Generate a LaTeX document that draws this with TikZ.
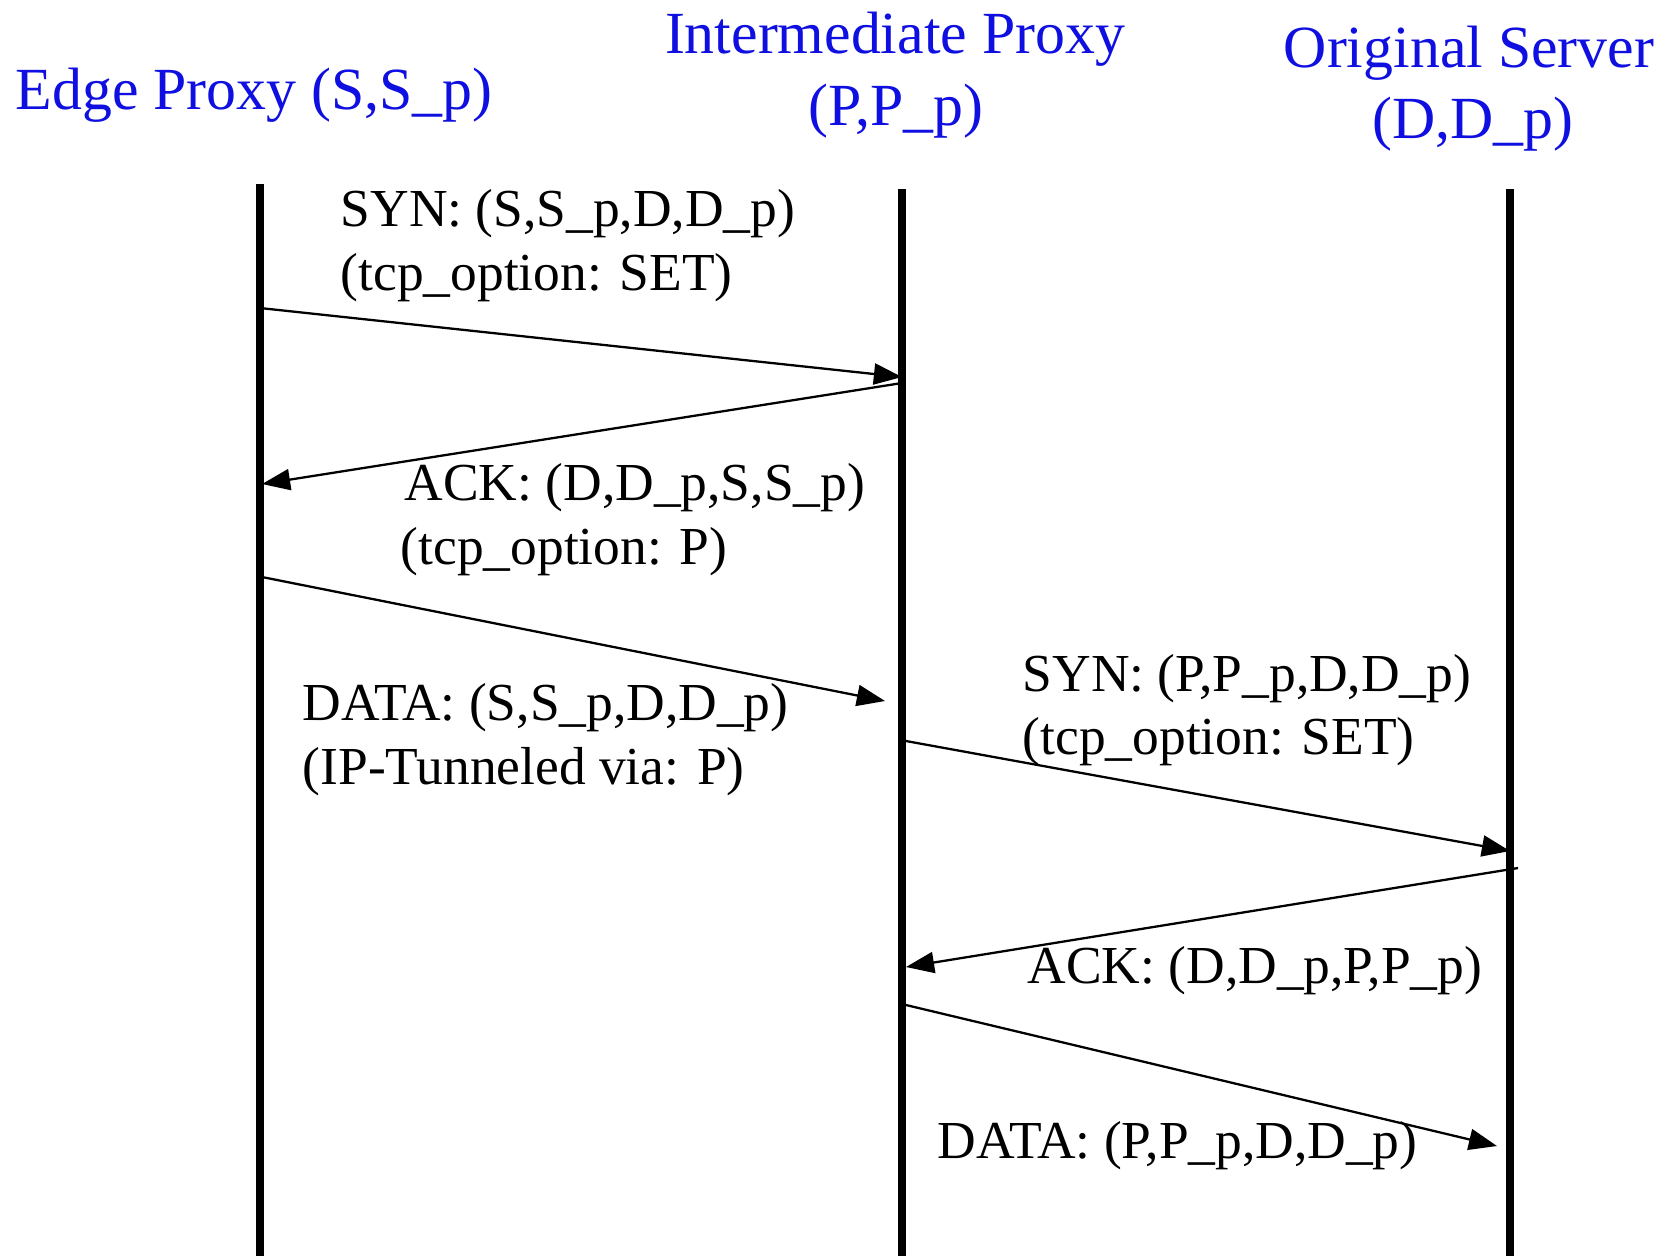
\documentclass[tikz,border=0pt]{standalone}
\usepackage{fontspec}
\setmainfont{Liberation Serif}
\usetikzlibrary{arrows.meta}
\definecolor{titleblue}{RGB}{15,15,225}
\begin{document}
\begin{tikzpicture}[x=0.01cm,y=-0.01cm,
  title/.style={text=titleblue,font=\fontsize{17}{20}\selectfont,inner sep=0pt,anchor=base},
  msg/.style={font=\fontsize{15.2}{18}\selectfont,inner sep=0pt,anchor=base west},
  lifeline/.style={line width=2.4pt},
  msgarrow/.style={line width=0.65pt,-{Triangle[length=8pt,width=6pt]}}]
\useasboundingbox[fill=white] (0,0) rectangle (1666,1256);
% titles
\node[title] (edge) at (254,109) {Edge Proxy (S,S\_p)};
\node[title] (inter1) at (895,53) {Intermediate Proxy};
\node[title] (inter2) at (896,125) {(P,P\_p)};
\node[title] (orig1) at (1469,67) {Original Server};
\node[title] (orig2) at (1473,138) {(D,D\_p)};
% lifelines
\coordinate (Etop) at (260,184); \coordinate (Ebot) at (260,1256);
\coordinate (Ptop) at (902,189); \coordinate (Pbot) at (902,1256);
\coordinate (Dtop) at (1510,189); \coordinate (Dbot) at (1510,1256);
\draw[lifeline] (Etop) -- (Ebot);
\draw[lifeline] (Ptop) -- (Pbot);
\draw[lifeline] (Dtop) -- (Dbot);
% message endpoints
\coordinate (a1s) at (260,308); \coordinate (a1e) at (902,377);
\coordinate (a2s) at (902,383); \coordinate (a2e) at (262,484);
\coordinate (a3s) at (262,577); \coordinate (a3e) at (885,701);
\coordinate (a4s) at (906,741); \coordinate (a4e) at (1510,851);
\coordinate (a5s) at (1518,868); \coordinate (a5e) at (906,967);
\coordinate (a6s) at (906,1005); \coordinate (a6e) at (1497,1146);
\draw[msgarrow] (a1s) -- (a1e);
\draw[msgarrow] (a2s) -- (a2e);
\draw[msgarrow] (a3s) -- (a3e);
\draw[msgarrow] (a4s) -- (a4e);
\draw[msgarrow] (a5s) -- (a5e);
\draw[msgarrow] (a6s) -- (a6e);
% labels
\node[msg] (l1a) at (340,226) {SYN: (S,S\_p,D,D\_p)};
\node[msg] (l1b) at (340,290) {(tcp\_option: SET)};
\node[msg] (l2a) at (404,500) {ACK: (D,D\_p,S,S\_p)};
\node[msg] (l2b) at (400,564) {(tcp\_option: P)};
\node[msg] (l3a) at (302,720) {DATA: (S,S\_p,D,D\_p)};
\node[msg] (l3b) at (302,784) {(IP-Tunneled via: P)};
\node[msg] (l4a) at (1022,691) {SYN: (P,P\_p,D,D\_p)};
\node[msg] (l4b) at (1022,754) {(tcp\_option: SET)};
\node[msg] (l5a) at (1027,983) {ACK: (D,D\_p,P,P\_p)};
\node[msg] (l6a) at (937,1158) {DATA: (P,P\_p,D,D\_p)};
\end{tikzpicture}
\end{document}
